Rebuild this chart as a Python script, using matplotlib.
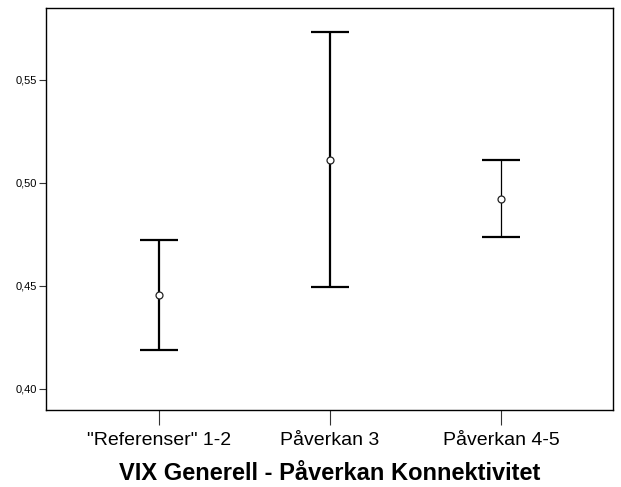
import matplotlib
matplotlib.use("Agg")
import matplotlib.pyplot as plt

categories = ['"Referenser" 1-2', 'Påverkan 3', 'Påverkan 4-5']
means = [0.4456, 0.5113, 0.4921]
lower = [0.4189, 0.4497, 0.4736]
upper = [0.4723, 0.5734, 0.5113]
yticks = [0.40, 0.45, 0.50, 0.55]
ytick_labels = ['0,40', '0,45', '0,50', '0,55']
title = 'VIX Generell - Påverkan Konnektivitet'

plt.rcParams['font.family'] = ['Liberation Sans', 'DejaVu Sans']

fig = plt.figure(figsize=(6.21, 4.87), dpi=100)
W, H = 621, 487
left, right, top, bottom = 46, 613, 8, 410
ax = fig.add_axes([left / W, (H - bottom) / H, (right - left) / W, (bottom - top) / H])

xs = list(range(1, len(categories) + 1))
vlw = [1.6, 1.6, 0.9]
for x, m, lo, hi, lw in zip(xs, means, lower, upper, vlw):
    ax.errorbar([x], [m], yerr=[[m - lo], [hi - m]], fmt='none', ecolor='black',
                elinewidth=lw, capsize=13.7, capthick=1.6)
    ax.plot([x], [m], 'o', mfc='white', mec='#222222', ms=5, mew=0.9, zorder=5)

ax.set_xlim(0.34, 3.654)
ax.set_ylim(0.3898, 0.5849)
ax.set_xticks(xs)
ax.set_xticklabels(categories, fontsize=14)
ax.set_yticks(yticks)
ax.set_yticklabels(ytick_labels, fontsize=8)
ax.tick_params(axis='x', length=11, width=0.8, pad=5, color='#333333')
ax.tick_params(axis='y', length=5, width=0.8, pad=1.5, color='#333333')
for s in ax.spines.values():
    s.set_linewidth(1.0)
    s.set_color('black')

fig.text((117 + 543) / 2 / W, (H - 480) / H, title, ha='center', va='baseline',
         fontsize=17, fontweight='bold')

fig.savefig('out.png', dpi=100)
